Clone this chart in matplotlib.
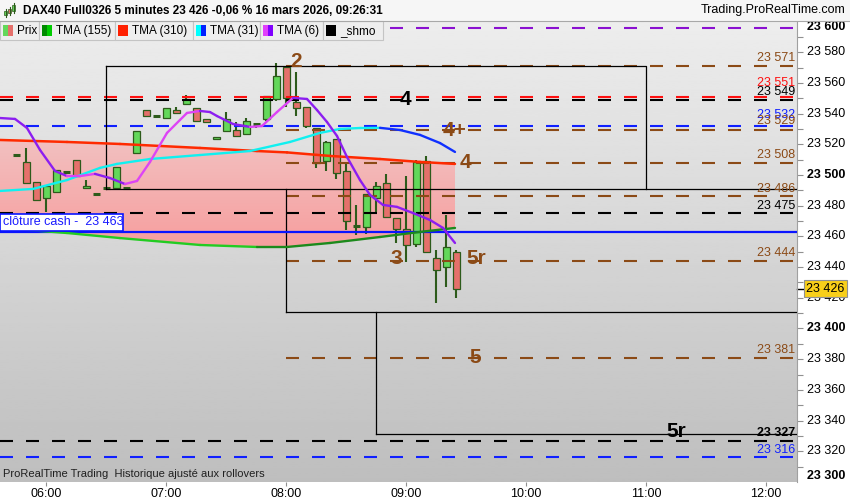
# -*- coding: utf-8 -*-
"""
DAX40 Full0326 - 5 minutes - 16 mars 2026 (Nachbau des ProRealTime-Charts)
"""
import numpy as np
import matplotlib
matplotlib.use("Agg")
import matplotlib.pyplot as plt
from matplotlib.patches import Rectangle
from matplotlib.transforms import blended_transform_factory

plt.rcParams['font.family'] = ['Liberation Sans', 'DejaVu Sans']
plt.rcParams['lines.scale_dashes'] = False

#%% Daten
# Bar-Index: 0 = 06:00, ein Bar = 5 Minuten
bar_idx = list(range(-3, 42))
opens = [23513, 23508.5, 23495.4, 23485.0, 23488.9, 23502, 23509.8, 23491.5, 23487.6, 23491.5,
         23491.5, 23491.5, 23514.3, 23542.3, 23538.4, 23537.1, 23542.3, 23546.3, 23543.6, 23536.5,
         23523.5, 23528.7, 23529.3, 23526.7, 23533.2, 23536.5, 23549.5, 23570.4, 23547.6, 23544.3,
         23530.6, 23509.1, 23523.5, 23502.6, 23466.8, 23466.1, 23485.0, 23494.8, 23472.0, 23464.8,
         23455.0, 23509.1, 23445.9, 23440.1, 23449.8]
highs = [23513, 23517.6, 23495.4, 23492.8, 23503.3, 23502, 23509.8, 23496.7, 23487.6, 23491.5,
         23505.2, 23491.5, 23528.7, 23542.3, 23538.4, 23543.6, 23544.3, 23552.1, 23543.6, 23536.5,
         23524.8, 23541.0, 23534.5, 23537.1, 23533.2, 23551.5, 23573.0, 23571.0, 23567.1, 23544.3,
         23530.6, 23522.1, 23523.5, 23507.2, 23480.5, 23487.6, 23495.4, 23500.7, 23472.0, 23499.3,
         23509.8, 23512.4, 23451.1, 23473.9, 23451.1]
lows = [23513, 23494.8, 23483.7, 23475.9, 23488.9, 23502, 23499.3, 23491.5, 23487.6, 23491.5,
        23491.5, 23491.5, 23514.3, 23538.4, 23538.4, 23537.1, 23540.4, 23546.3, 23535.2, 23534.5,
        23523.5, 23528.7, 23525.4, 23526.7, 23530.6, 23535.2, 23548.2, 23544.3, 23538.4, 23530.6,
        23504.6, 23502.6, 23497.4, 23464.2, 23460.9, 23461.6, 23475.9, 23472.6, 23455.7, 23443.3,
        23453.1, 23449.8, 23416.6, 23427.0, 23419.9]
closes = [23513, 23494.8, 23483.7, 23492.8, 23503.3, 23502, 23499.3, 23492.8, 23487.6, 23491.5,
          23505.2, 23491.5, 23528.7, 23538.4, 23538.4, 23543.6, 23540.4, 23549.5, 23535.2, 23534.5,
          23524.8, 23536.5, 23525.4, 23535.2, 23533.2, 23551.5, 23564.5, 23550.2, 23543.6, 23531.9,
          23507.8, 23521.5, 23501.3, 23470.0, 23466.8, 23487.6, 23492.8, 23472.6, 23464.8, 23454.4,
          23508.5, 23449.8, 23438.1, 23453.1, 23426.0]

# Gleitende Durchschnitte (Stützstellen, Bar-Index)
ma_long_x = [-4.6, 2.1, 7.4, 15.4, 21.1, 24.1, 28.4, 33.4, 37.4, 40.9]
tma310 = [23522.8, 23521.5, 23520.2, 23517.6, 23515.6, 23514.7, 23512.4, 23510.4, 23508.5, 23507.2]
tma155 = [23465.5, 23462.2, 23458.9, 23454.4, 23453.1, 23453.1, 23455.7, 23459.6, 23462.9, 23465.5]

tma31_x = [-4.6, -1.3, 2.1, 5.4, 7.1, 10.4, 15.4, 20.4, 24.4, 27.4, 29.4, 31.4, 33.4, 35.4, 37.4, 39.4, 40.9]
tma31 = [23489.6, 23490.9, 23496.7, 23504.6, 23507.2, 23510.4, 23513.0, 23515.6, 23521.5, 23527.4,
         23530.0, 23530.6, 23530.7, 23529.3, 23526.1, 23520.8, 23515.0]

tma6_x = [-4.6, -3.1, -1.9, -0.6, 0.9, 2.1, 3.4, 4.9, 6.4, 7.9, 9.1, 10.4, 12.1, 14.1, 15.4, 16.4, 17.1,
          18.7, 20.4, 21.6, 23.1, 24.7, 26.1, 27.1, 28.1, 29.1, 30.1, 31.4, 32.4, 33.7, 35.1, 36.7,
          38.4, 39.7, 40.9]
tma6 = [23537.1, 23536.5, 23530.6, 23516.3, 23502.6, 23499.3, 23499.3, 23500.7, 23498.0, 23494.1,
        23496.1, 23508.5, 23527.4, 23540.4, 23541.7, 23541.0, 23538.4, 23533.2, 23531.3, 23531.9,
        23541.0, 23550.2, 23549.5, 23542.3, 23534.5, 23525.4, 23511.7, 23496.7, 23487.0, 23480.5,
        23479.2, 23475.2, 23470.7, 23465.5, 23455.7]

# Horizontale Niveaus
lvl_price = [23596, 23571, 23551, 23549, 23532, 23529, 23508, 23486, 23475, 23444, 23381, 23327, 23316]
lvl_kind = ['purple', 'brown', 'red', 'black', 'blue', 'brown', 'brown', 'brown', 'black', 'brown',
            'brown', 'black', 'blue']
cash_close = 23463
last_price = 23426

# Zonen (Treppe)
zone_x = [6, 24, 33]            # 06:30, 08:00, 08:45
zone_top = [23571, 23491, 23411]
zone_bot = [23491, 23411, 23331]
zone1_right = 60                # 11:00

# Markierungen
mark_txt = ['2', '4', '4+', '4', '3', '5r', '5', '5r']
mark_x = [25, 35.9, 40.9, 41.9, 35, 43, 42.9, 63]
mark_y = [23573.6, 23548.9, 23528.7, 23507.8, 23445.3, 23445.3, 23381.4, 23332.6]
mark_col = ['brown', 'black', 'brown', 'brown', 'brown', 'brown', 'brown', 'black']

time_ticks = [0, 12, 24, 36, 48, 60, 72]
time_labels = ['06:00', '07:00', '08:00', '09:00', '10:00', '11:00', '12:00']
price_ticks = list(range(23320, 23600, 20))

#%% Farben
COL = {'brown': '#8b4a16', 'red': '#ff1010', 'black': '#000000', 'blue': '#1020ff', 'purple': '#8a10d0'}
edge_c = '#2d5b1b'
up_c = '#63d85a'
dn_c = '#e5706b'

X0, X1 = -4.6, 75.1
Y0, Y1 = 23300, 23600.3

fig = plt.figure(figsize=(8.5, 5), dpi=100)
fig.patch.set_facecolor('white')
ax = fig.add_axes([0, 18 / 500, 797 / 850, 461 / 500])

# Hintergrund mit Verlauf
bg = np.linspace(190 / 255, 237 / 255, 256).reshape(-1, 1)
ax.imshow(bg, extent=[X0, X1, Y0, Y1], origin='lower', aspect='auto', cmap='gray',
          vmin=0, vmax=1, zorder=0)

# Rosa Fläche zwischen TMA(310) und TMA(155)
poly = ax.fill_between(ma_long_x, tma310, tma155, color='none', lw=0, zorder=1)
pink = np.array([[247, 158, 158], [242, 192, 192]]) / 255
t = np.linspace(0, 1, 128)[:, None]
pimg = (pink[0] + (pink[1] - pink[0]) * t)[:, None, :]
im = ax.imshow(pimg, extent=[ma_long_x[0], ma_long_x[-1], min(tma155), max(tma310)],
               origin='lower', aspect='auto', zorder=1)
im.set_clip_path(poly.get_paths()[0], transform=ax.transData)

# Kerzen
for i, o, h, l, c in zip(bar_idx, opens, highs, lows, closes):
    if h > l:
        ax.plot([i, i], [l, h], color=edge_c, lw=1.5, zorder=3, solid_capstyle='butt')
    if abs(c - o) < 0.5:
        ax.plot([i - 0.35, i + 0.35], [c, c], color=edge_c, lw=2.2, zorder=3.2, solid_capstyle='butt')
    else:
        ax.add_patch(Rectangle((i - 0.35, min(o, c)), 0.7, abs(c - o),
                               facecolor=up_c if c > o else dn_c, edgecolor=edge_c, lw=0.9, zorder=3.1))

# Niveaus
dash = (0, (9.36, 9.36))
for p, k in zip(lvl_price, lvl_kind):
    start = X0 if k in ('red', 'black', 'blue') else 24
    ax.plot([start, X1], [p, p], color=COL[k], lw=1.5, ls=dash, zorder=4)

# Zonen
zl = dict(color='black', lw=0.9, zorder=4)
ax.plot([zone_x[0], zone1_right, zone1_right], [zone_top[0], zone_top[0], zone_bot[0]], **zl)
for zx, zt, zb in zip(zone_x, zone_top, zone_bot):
    ax.plot([zx, zx], [zt, zb], **zl)
    ax.plot([zx, X1], [zb, zb], **zl)

# Clôture cash
ax.plot([X0, X1], [cash_close, cash_close], color='#0a14ff', lw=1.6, zorder=4.5)
ax.add_patch(Rectangle((X0, cash_close + 0.3), 12.3, 11.6, facecolor='white',
                       edgecolor='#0a14ff', lw=1.2, zorder=6))
ax.text(X0 + 0.3, cash_close + 6.1, 'clôture cash -  23 463', color='#1a1aff', fontsize=9,
        va='center', ha='left', zorder=7)


# Gleitende Durchschnitte mit Farbwechsel je nach Richtung
def plot_ma(xs, ys, col_up, col_dn, lw=1.6):
    for k in range(len(xs) - 1):
        col = col_up if ys[k + 1] >= ys[k] else col_dn
        ax.plot(xs[k:k + 2], ys[k:k + 2], color=col, lw=lw, zorder=5, solid_capstyle='round')


plot_ma(ma_long_x, tma310, '#ff2a00', '#ff2a00', lw=1.8)
plot_ma(ma_long_x, tma155, '#1c8a1c', '#22cc22', lw=1.7)
plot_ma(tma31_x, tma31, '#10f0f0', '#1030ff', lw=1.7)
plot_ma(tma6_x, tma6, '#dd44f5', '#8c1ef0', lw=1.7)

# Beschriftungen der Niveaus (rechts im Chart)
ytr = blended_transform_factory(ax.transAxes, ax.transData)
lab_off = {23551: 14, 23532: 11, 23529: 9}
for p, k in zip(lvl_price, lvl_kind):
    if k == 'purple':
        continue
    off = lab_off.get(p, 7.5) * 0.72
    ax.annotate(f"{p // 1000} {p % 1000:03d}", xy=(0.9975, p), xycoords=ytr,
                xytext=(0, off), textcoords='offset points', ha='right', va='center',
                fontsize=9, color=COL[k], fontweight='bold' if p == 23327 else 'normal', zorder=8)

for s, x, y, k in zip(mark_txt, mark_x, mark_y, mark_col):
    ax.text(x, y, s, color=COL[k], fontsize=15, fontweight='bold', ha='center', va='center', zorder=8)

ax.text(X0 + 0.3, 23305.2, 'ProRealTime Trading  Historique ajusté aux rollovers',
        family=['Liberation Sans Narrow', 'Liberation Sans'], fontsize=8, color='#202020',
        va='center', ha='left', zorder=8)

# Achsen
ax.set_xlim(X0, X1)
ax.set_ylim(Y0, Y1)
for s in ['top', 'left', 'bottom']:
    ax.spines[s].set_visible(False)
ax.spines['right'].set_color('#a0a0a0')
ax.set_xticks(time_ticks)
ax.set_xticklabels(time_labels)
ax.tick_params(axis='x', length=3, color='#909090', labelsize=9, pad=1)
ax.yaxis.tick_right()
ax.set_yticks(list(range(23310, 23600, 10)))
ax.tick_params(axis='y', length=4, color='#909090', labelright=False)

for v in price_ticks:
    ax.text(1.0125, v, f"{v // 1000} {v % 1000:03d}", transform=ytr, fontsize=9, va='center',
            ha='left', fontweight='bold' if v % 100 == 0 else 'normal')
ax.text(1.0125, 23600.3, '23 600', transform=ytr, fontsize=9, va='top', ha='left', fontweight='bold')
ax.text(1.0125, 23300, '23 300', transform=ytr, fontsize=9, va='bottom', ha='left', fontweight='bold')
ax.text(1.0112, last_price, '23 426', transform=ytr, fontsize=9, va='center', ha='left', zorder=9,
        bbox=dict(boxstyle='square,pad=0.18', fc='#f8cf1a', ec='#909090', lw=0.8))
ax.plot([1.0, 1.008], [last_price, last_price], transform=ytr, color='black', lw=1, clip_on=False)

#%% Kopfzeile und Legende (Pixelkoordinaten)
ov = fig.add_axes([0, 0, 1, 1], zorder=10)
ov.set_xlim(0, 850)
ov.set_ylim(500, 0)
ov.axis('off')

ov.add_patch(Rectangle((0, 0), 850, 20.5, facecolor='#f6f6f6', edgecolor='none'))
ov.plot([0, 850], [20.5, 20.5], color='#a8a8a8', lw=0.8)
# kleines Kerzen-Symbol
for cx, cb, ct, col in [(6, 15, 11, up_c), (10, 13, 9, dn_c), (14, 11, 5, up_c)]:
    ov.plot([cx, cx], [cb + 2, ct - 2], color=edge_c, lw=0.8)
    ov.add_patch(Rectangle((cx - 1.5, ct), 3, cb - ct, facecolor=col, edgecolor=edge_c, lw=0.5))
ov.text(23, 10.5, 'DAX40 Full0326 5 minutes 23 426 -0,06 % 16 mars 2026, 09:26:31',
        fontsize=8.5, fontweight='bold', va='center', ha='left')
ov.text(845, 10.5, 'Trading.ProRealTime.com', fontsize=9, va='center', ha='right')

tabs = [(0, 39, 'Prix', up_c, dn_c), (39, 115, 'TMA (155)', '#008a00', '#00cc00'),
        (115, 193, 'TMA (310)', '#ff2000', '#ff2000'), (193, 260, 'TMA (31)', '#00ffff', '#0020ff'),
        (260, 323, 'TMA (6)', '#e040fb', '#8000ff'), (323, 383, '_shmo', '#000000', '#000000')]
for x0, x1, name, c1, c2 in tabs:
    ov.add_patch(Rectangle((x0, 21), x1 - x0, 19, facecolor='#eeeeee', edgecolor='#c4c4c4', lw=0.8))
    ov.add_patch(Rectangle((x0 + 3.5, 25), 5, 11, facecolor=c1, edgecolor='none'))
    ov.add_patch(Rectangle((x0 + 8.5, 25), 5, 11, facecolor=c2, edgecolor='none'))
    ov.text(x0 + 17, 31, name, fontsize=8.5, va='center', ha='left')

fig.savefig('out.png', dpi=100)
